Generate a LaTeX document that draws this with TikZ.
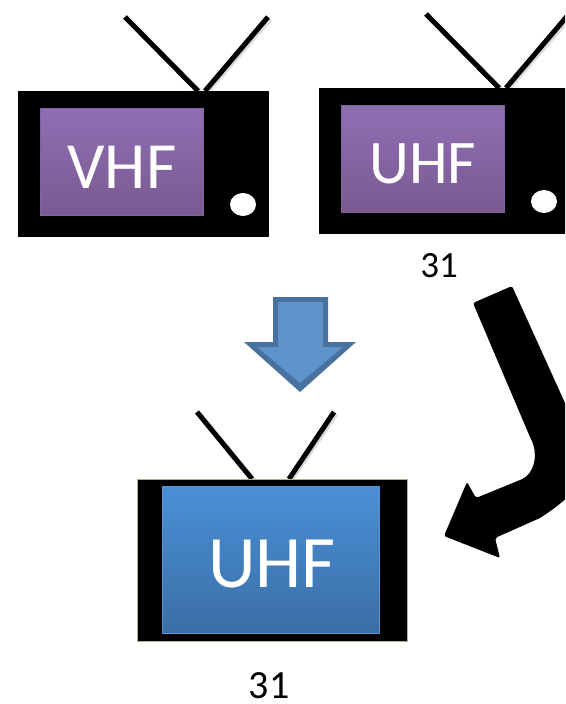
\documentclass[tikz,border=0pt]{standalone}
\usepackage{fontspec}
\setmainfont{Carlito}
\definecolor{purtop}{HTML}{8F6FB4}
\definecolor{purbot}{HTML}{795A90}
\definecolor{purline}{HTML}{7F64A0}
\definecolor{blutop}{HTML}{4A90D7}
\definecolor{blubot}{HTML}{3A6EA6}
\definecolor{bluline}{HTML}{5A94CE}
\definecolor{arrowout}{HTML}{47719F}
\definecolor{arrowin}{HTML}{5E94C9}
\definecolor{tvedge}{HTML}{B5AE94}
\tikzset{
  ant/.style={line width=5pt,black},
  antshadow/.style={line width=5pt,black!14},
  purscreen/.style={draw=purline,line width=1pt,top color=purtop,bottom color=purbot},
  bluscreen/.style={draw=bluline,line width=1pt,top color=blutop,bottom color=blubot},
  label/.style={inner sep=0pt,text=black,font=\fontsize{37}{37}\selectfont},
  screentext/.style={inner sep=0pt,text=white},
}
\begin{document}
\begin{tikzpicture}[x=1pt,y=-1pt]
\useasboundingbox (0,0) rectangle (565,704);
\clip (0,0) rectangle (565,704);
\fill[white] (0,0) rectangle (565,704);
% TV 1
\draw[antshadow] (127,19) -- (200,92);
\draw[antshadow] (270,19) -- (207,92);
\draw[ant] (125,17) -- (198,91);
\draw[ant] (268,17) -- (205,91);
\fill[black] (18,91) rectangle (269,237);
\path[purscreen] (40,108.5) rectangle (203.5,215.5);
\fill[white] (243,204.5) ellipse (13 and 11.5);
\node[screentext,font=\fontsize{66}{66}\selectfont] (vhf) at (122,167) {VHF};
% TV 2
\draw[antshadow] (428,16) -- (501,89);
\draw[antshadow] (571,16) -- (508,89);
\draw[ant] (426,14) -- (499,88);
\draw[ant] (569,14) -- (506,88);
\fill[black] (319,88) rectangle (570,234);
\path[purscreen] (341,105.5) rectangle (504.5,212.5);
\fill[white] (544,201.5) ellipse (13 and 11.5);
\node[screentext,font=\fontsize{62}{62}\selectfont] (uhfa) at (423,164) {UHF};
\node[label] (numa) at (439,266) {31};
% blue arrow
\fill[arrowout] (273,297) -- (328,297) -- (328,342) -- (356,342) -- (300,392) -- (244,342) -- (273,342) -- cycle;
\fill[arrowin] (278,302) -- (323,302) -- (323,347) -- (343,347) -- (300,383) -- (257,347) -- (278,347) -- cycle;
% black arrow
\fill[black,rounded corners=2pt] (473,303) -- (512,286) -- (565,403) -- (582,440)
  .. controls (594,470) and (580,492) .. (540,518)
  -- (495,538) -- (500,558) -- (444,536) -- (467,482) -- (476,498) -- (520,480)
  .. controls (534,474) and (539,455) .. (530,437) -- cycle;
% TV 3
\draw[antshadow] (199,414) -- (254,480);
\draw[antshadow] (336,414) -- (291,480);
\draw[ant] (197,412) -- (252,479);
\draw[ant] (334,412) -- (289,479);
\draw[tvedge,fill=black,line width=1pt] (137,479.5) rectangle (407,641.5);
\path[bluscreen] (162,486.5) rectangle (379.5,633);
\node[screentext,font=\fontsize{74}{74}\selectfont] (uhfb) at (272,564) {UHF};
\node[label,font=\fontsize{40}{40}\selectfont] (numb) at (269,686) {31};
\end{tikzpicture}
\end{document}
